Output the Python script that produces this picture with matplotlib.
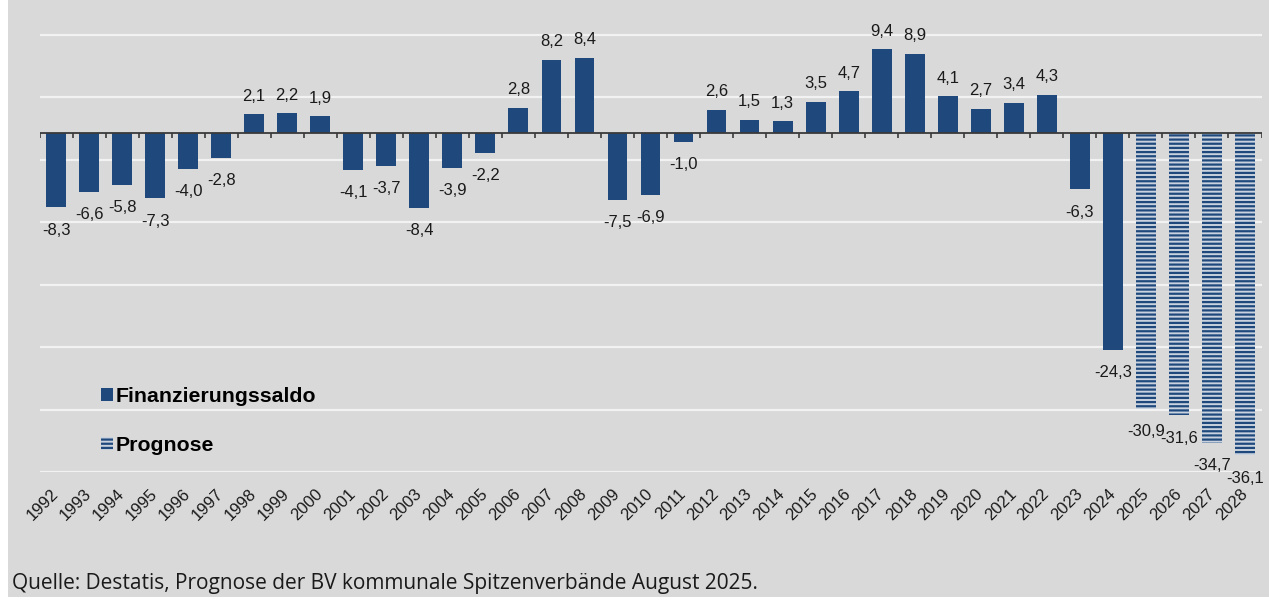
import matplotlib
matplotlib.use("Agg")
import matplotlib.pyplot as plt
import numpy as np
from matplotlib.patches import Rectangle, Patch

years = [str(y) for y in range(1992, 2029)]
values = [-8.3, -6.6, -5.8, -7.3, -4.0, -2.8, 2.1, 2.2, 1.9, -4.1, -3.7, -8.4,
          -3.9, -2.2, 2.8, 8.2, 8.4, -7.5, -6.9, -1.0, 2.6, 1.5, 1.3, 3.5, 4.7,
          9.4, 8.9, 4.1, 2.7, 3.4, 4.3, -6.3, -24.3, -30.9, -31.6, -34.7, -36.1]
forecast_years = ["2025", "2026", "2027", "2028"]
legend_labels = ["Finanzierungssaldo", "Prognose"]
source = "Quelle: Destatis, Prognose der BV kommunale Spitzenverbände August 2025."

BLUE = "#1f497d"
HATCH_BG = "#c9d2de"
GRAY = "#d9d9d9"
TXT = "#1a1a1a"
W, H = 1269, 604

plt.rcParams["font.family"] = ["Liberation Sans", "DejaVu Sans"]
plt.rcParams["hatch.linewidth"] = 1.6

fig = plt.figure(figsize=(W / 100, H / 100), dpi=100)
fig.patch.set_facecolor("white")
fig.patches.append(Rectangle((8 / W, 1 - 597 / H), 1 - 8 / W, 597 / H,
                             transform=fig.transFigure, facecolor=GRAY,
                             edgecolor="none", zorder=-10))

ax = fig.add_axes([39.5 / W, 1 - 472.3 / H, (1261.5 - 39.5) / W, 472.3 / H])
ax.set_facecolor("none")
x = np.arange(len(years))
is_fc = [y in forecast_years for y in years]

for xi, v, fc in zip(x, values, is_fc):
    if fc:
        ax.bar(xi, v, width=0.6, facecolor=HATCH_BG, edgecolor=BLUE,
               hatch="----", linewidth=0, zorder=3)
    else:
        ax.bar(xi, v, width=0.6, color=BLUE, linewidth=0, zorder=3)

for xi, v in zip(x, values):
    lab = f"{v:.1f}".replace(".", ",")
    off = 13 if v >= 0 else -16.5
    ax.annotate(lab, (xi, v), xytext=(0, off), textcoords="offset points",
                ha="center", va="center", fontsize=12, color=TXT, zorder=5)

ax.set_xlim(-0.5, len(years) - 0.5)
ax.set_ylim(-38, 14.9)
ax.set_yticks(np.arange(-38, 15, 7))
ax.yaxis.grid(True, color="#f2f2f2", linewidth=1.6)
ax.set_axisbelow(True)
ax.tick_params(axis="y", length=0, labelleft=False)
for s in ax.spines.values():
    s.set_visible(False)

# zero line with category boundary ticks
ax.axhline(0, color="#3a3a3a", linewidth=1.3, zorder=4)
bounds = np.arange(len(years) + 1) - 0.5
ax.vlines(bounds, -0.55, 0, color="#3a3a3a", linewidth=1.2, zorder=4)

ax.set_xticks(x)
ax.set_xticklabels(years, rotation=45, ha="right", va="center",
                   rotation_mode="anchor", fontsize=12, color=TXT)
ax.tick_params(axis="x", length=0, pad=14)

handles = [Patch(facecolor=BLUE, linewidth=0),
           Patch(facecolor=HATCH_BG, edgecolor=BLUE, hatch="----", linewidth=0)]
leg = fig.legend(handles, legend_labels, loc="upper left",
                 bbox_to_anchor=(101 / W, 1 - 387 / H), frameon=False,
                 prop={"size": 15.3, "weight": "bold"},
                 handlelength=0.55, handleheight=0.55, handletextpad=0.12,
                 labelspacing=1.4, borderpad=0, borderaxespad=0)

t = fig.text(12 / W, 1 - 583 / H, source, ha="left", va="center",
             fontsize=13, family=["Open Sans", "DejaVu Sans"], color=TXT)
fig.canvas.draw()
bb = t.get_window_extent()
t.set_fontsize(13 * 745 / bb.width)

fig.savefig("out.png", dpi=100, facecolor=fig.get_facecolor())
